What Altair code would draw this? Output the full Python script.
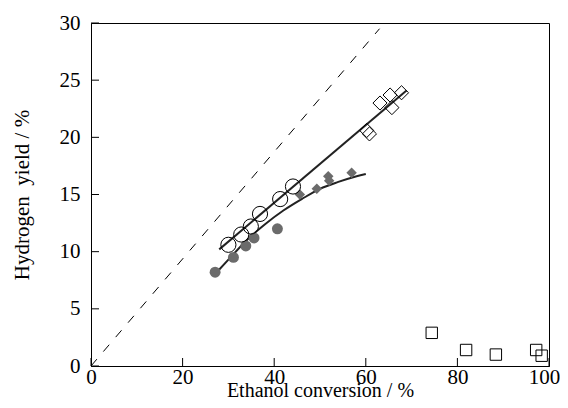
import altair as alt
import pandas as pd

FONT = "Liberation Serif"

# dashed reference line
dash_x = [0, 63]
dash_y = [0, 29.5]

# upper straight fitted line
up_x = [28.0, 68.9]
up_y = [10.2, 24.1]

# lower curved fitted line
low_x = [27, 30, 34, 38, 42, 46, 50, 54, 58, 60]
low_y = [8.0, 9.3, 11.0, 12.4, 13.6, 14.6, 15.5, 16.1, 16.6, 16.8]

# gray filled circles
gc_x = [27.1, 31.1, 33.8, 35.6, 40.7]
gc_y = [8.2, 9.5, 10.5, 11.2, 12.0]

# gray filled diamonds
gd_x = [45.6, 49.3, 51.8, 52.0, 56.9]
gd_y = [15.0, 15.5, 16.6, 16.2, 16.9]

# open circles
oc_x = [30.0, 32.8, 34.9, 36.9, 41.3, 44.1]
oc_y = [10.6, 11.5, 12.2, 13.3, 14.6, 15.7]

# open diamonds
od_x = [60.2, 60.8, 63.1, 65.3, 65.7, 67.8]
od_y = [20.6, 20.3, 23.0, 23.7, 22.6, 23.9]

# open squares
sq_x = [74.4, 81.9, 88.4, 97.2, 98.4]
sq_y = [2.9, 1.4, 1.0, 1.4, 0.9]

x_ticks = [0, 20, 40, 60, 80, 100]
y_ticks = [0, 5, 10, 15, 20, 25, 30]

W, H = 458, 343
xs = alt.Scale(domain=[0, 100], nice=False)
ys = alt.Scale(domain=[0, 30], nice=False)

xax = alt.Axis(values=x_ticks, ticks=False, grid=False, labelPadding=0, labelFlush=False,
               labelOffset=alt.expr("datum.value == 100 ? -5 : 0"),
               labelFont=FONT, labelFontSize=21, titleFont=FONT, titleFontSize=20,
               title="Ethanol conversion / %", titlePadding=-7)
yax = alt.Axis(values=y_ticks, ticks=False, grid=False, labelPadding=11, labelFlush=False,
               labelFont=FONT, labelFontSize=21, titleFont=FONT, titleFontSize=21,
               title="Hydrogen\u00a0 yield / %", titlePadding=27)

def df(x, y):
    return pd.DataFrame({"x": x, "y": y})

X = alt.X("x:Q", scale=xs, axis=xax)
Y = alt.Y("y:Q", scale=ys, axis=yax)

dash = alt.Chart(df(dash_x, dash_y)).mark_line(
    color="black", strokeWidth=1, strokeDash=[9, 10]).encode(x=X, y=Y)
up = alt.Chart(df(up_x, up_y)).mark_line(color="#222", strokeWidth=2).encode(x=X, y=Y)
low = alt.Chart(df(low_x, low_y)).mark_line(
    color="#222", strokeWidth=2, interpolate="monotone").encode(x=X, y=Y)
gc = alt.Chart(df(gc_x, gc_y)).mark_point(
    shape="circle", filled=True, color="#6b6b6b", size=120, opacity=1).encode(x=X, y=Y)
gd = alt.Chart(df(gd_x, gd_y)).mark_point(
    shape="diamond", filled=True, color="#6b6b6b", size=110, opacity=1).encode(x=X, y=Y)
oc = alt.Chart(df(oc_x, oc_y)).mark_point(
    shape="circle", filled=False, color="black", size=230, strokeWidth=1, opacity=1).encode(x=X, y=Y)
od = alt.Chart(df(od_x, od_y)).mark_point(
    shape="diamond", filled=False, color="black", size=200, strokeWidth=1, opacity=1).encode(x=X, y=Y)
sq = alt.Chart(df(sq_x, sq_y)).mark_point(
    shape="square", filled=False, color="black", size=130, strokeWidth=1, opacity=1).encode(x=X, y=Y)

xt = alt.Chart(pd.DataFrame({"x": x_ticks})).mark_rule(color="black", strokeWidth=1).encode(
    x=X, y=alt.value(H), y2=alt.value(H - 8))
yt = alt.Chart(pd.DataFrame({"y": y_ticks})).mark_rule(color="black", strokeWidth=1).encode(
    y=Y, x=alt.value(0), x2=alt.value(8))

chart = alt.layer(dash, up, low, gc, gd, oc, od, sq, xt, yt).properties(
    width=W, height=H,
    autosize=alt.AutoSizeParams(type="none"),
    padding={"left": 83, "top": 15, "right": 11, "bottom": 34},
).configure(font=FONT).configure_view(stroke="black", strokeWidth=1).configure_axis(
    domainColor="black", domainWidth=1, labelColor="black", titleColor="black",
    titleFontWeight="normal",
)

chart.save("out.html", embed_options={"renderer": "svg", "actions": False})
